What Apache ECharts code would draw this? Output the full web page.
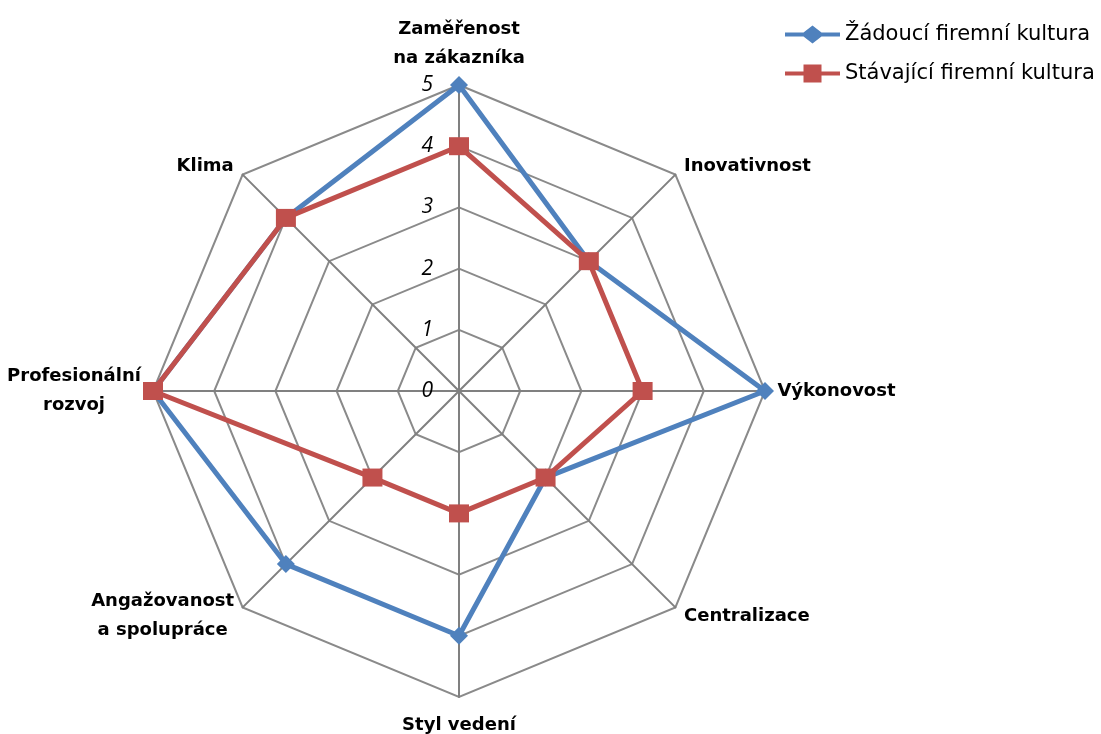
<!DOCTYPE html>
<html>
<head>
<meta charset="utf-8">
<style>
  html, body { margin: 0; padding: 0; background: #ffffff; }
  #chart { width: 1101px; height: 734px; }
</style>
<script src="https://cdn.jsdelivr.net/npm/echarts@6/dist/echarts.min.js"></script>
</head>
<body>
<div id="chart"></div>
<script>
// Dimensions, listed clockwise starting at the top
const categories = [
  'Zaměřenost\nna zákazníka',
  'Inovativnost',
  'Výkonovost',
  'Centralizace',
  'Styl vedení',
  'Angažovanost\na spolupráce',
  'Profesionální\nrozvoj',
  'Klima'
];
const seriesNames = ['Žádoucí firemní kultura', 'Stávající firemní kultura'];
const desired = [5, 3, 5, 2, 4, 4, 5, 4];
const current = [4, 3, 3, 2, 2, 2, 5, 4];
const scaleMax = 5;

const BLUE = '#4F81BD';
const RED = '#C0504D';
const GRID = '#8a8a8a';
const NAME_SIZE = 18;
const NAME_FONT = 'bold ' + NAME_SIZE + 'px "DejaVu Sans"';

// ECharts lays radar indicators out counter-clockwise; keep the first at the top
// and reverse the rest so the dimensions run clockwise.
const order = [0].concat(categories.map((_, i) => i).slice(1).reverse());
const reorder = arr => order.map(i => arr[i]);

// Two-line names are centred line by line inside their block:
// give each line a rich style whose width is the widest line.
const measureCtx = document.createElement('canvas').getContext('2d');
measureCtx.font = NAME_FONT;
const nameRich = {};
const nameKey = {};
categories.forEach((name, i) => {
  const lines = name.split('\n');
  const w = Math.ceil(Math.max(...lines.map(l => measureCtx.measureText(l).width)));
  nameKey[name] = 'n' + i;
  nameRich['n' + i] = {
    width: w,
    align: 'center',
    fontFamily: 'DejaVu Sans',
    fontWeight: 'bold',
    fontSize: NAME_SIZE,
    lineHeight: 29,
    color: '#000'
  };
});
// the bottom name sits a little further from the outer ring
nameRich[nameKey['Styl vedení']].padding = [4, 0, 0, 0];

const indicators = order.map((i, k) => {
  const ind = { name: categories[i], max: scaleMax, min: 0 };
  if (k === 0) {
    ind.axisLabel = {
      show: true,
      color: '#000',
      fontFamily: 'Open Sans',
      fontStyle: 'italic',
      fontSize: 21,
      margin: 26
    };
  }
  return ind;
});

// Legend icons: a short line with the series marker in the middle
const diamondIcon = 'path://M0,7 L18.5,7 L27.5,0 L36.5,7 L55,7 L55,11 L36.5,11 L27.5,18 L18.5,11 L0,11 Z';
const squareIcon = 'path://M0,7 L18.5,7 L18.5,0 L36.5,0 L36.5,7 L55,7 L55,11 L36.5,11 L36.5,18 L18.5,18 L18.5,11 L0,11 Z';

const chart = echarts.init(document.getElementById('chart'), null, { renderer: 'canvas' });
chart.setOption({
  backgroundColor: '#ffffff',
  animation: false,
  legend: {
    left: 780,
    top: 19,
    orient: 'vertical',
    itemWidth: 55,
    itemHeight: 18,
    itemGap: 18,
    textStyle: { fontFamily: 'DejaVu Sans', fontSize: 21, color: '#000', lineHeight: 18 },
    data: [
      { name: seriesNames[0], icon: diamondIcon, itemStyle: { color: BLUE } },
      { name: seriesNames[1], icon: squareIcon, itemStyle: { color: RED } }
    ]
  },
  radar: {
    center: [459, 391],
    radius: 306,
    startAngle: 90,
    shape: 'polygon',
    splitNumber: 5,
    nameGap: 12,
    axisName: {
      color: '#000',
      fontFamily: 'DejaVu Sans',
      fontWeight: 'bold',
      fontSize: NAME_SIZE,
      lineHeight: 29,
      formatter: name => name.split('\n').map(l => '{' + nameKey[name] + '|' + l + '}').join('\n'),
      rich: nameRich
    },
    axisLine: { lineStyle: { color: '#808080', width: 2 } },
    splitLine: { lineStyle: { color: GRID, width: 2 } },
    splitArea: { show: false },
    axisTick: { show: false },
    axisLabel: { show: false },
    indicator: indicators
  },
  series: [
    {
      type: 'radar',
      z: 2,
      data: [
        {
          name: seriesNames[0],
          value: reorder(desired),
          symbol: 'diamond',
          symbolSize: 18,
          lineStyle: { color: BLUE, width: 5 },
          itemStyle: { color: BLUE }
        }
      ]
    },
    {
      type: 'radar',
      z: 3,
      data: [
        {
          name: seriesNames[1],
          value: reorder(current),
          symbol: 'rect',
          symbolSize: [20, 18],
          lineStyle: { color: RED, width: 5 },
          itemStyle: { color: RED }
        }
      ]
    }
  ]
});
</script>
</body>
</html>
